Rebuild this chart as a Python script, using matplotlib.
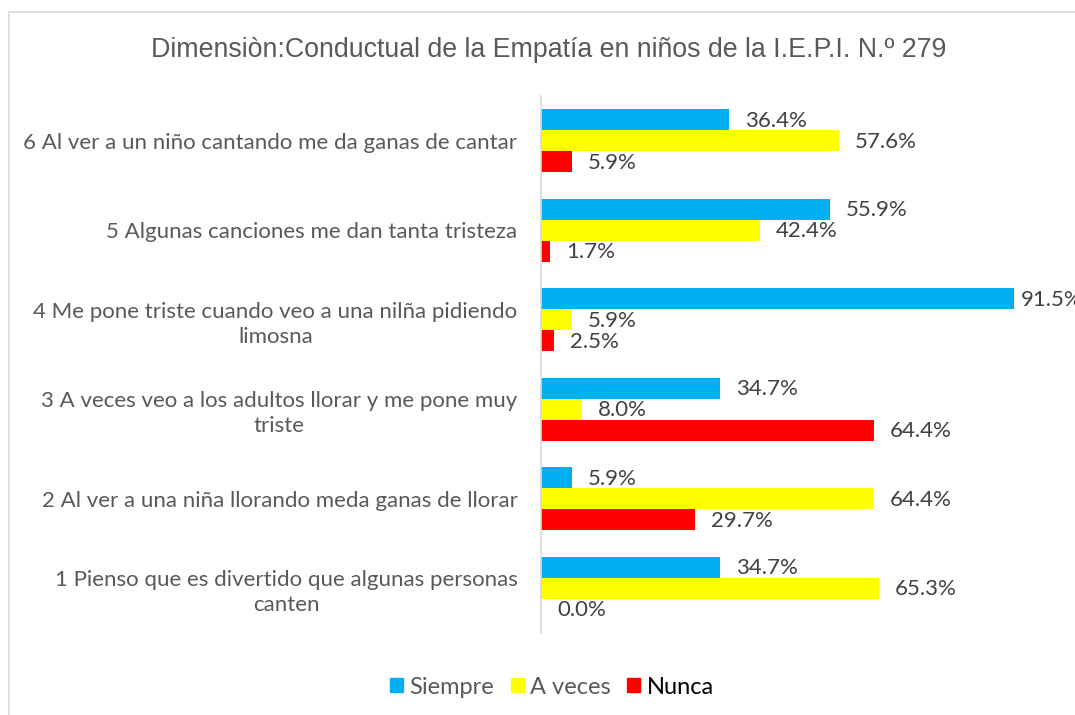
import matplotlib
matplotlib.use("Agg")
import matplotlib.pyplot as plt
from matplotlib.patches import Rectangle
import numpy as np

categories = [
    "1 Pienso que es divertido que algunas personas\ncanten",
    "2 Al ver a una niña llorando meda ganas de llorar",
    "3 A veces veo a los adultos llorar y me pone muy\ntriste",
    "4 Me pone triste cuando veo a una nilña pidiendo\nlimosna",
    "5 Algunas canciones me dan tanta tristeza",
    "6 Al ver a un niño cantando me da ganas de cantar",
]
siempre = [34.7, 5.9, 34.7, 91.5, 55.9, 36.4]
a_veces = [65.3, 64.4, 8.0, 5.9, 42.4, 57.6]
nunca = [0.0, 29.7, 64.4, 2.5, 1.7, 5.9]
series_names = ["Siempre", "A veces", "Nunca"]
colors = ["#00B0F0", "#FFFF00", "#FF0000"]
title = "Dimensiòn:Conductual de la Empatía en niños de la I.E.P.I. N.º 279"

W, H = 1075, 715
fig = plt.figure(figsize=(W / 100, H / 100), dpi=100)

# chart frame
fig.patches.append(Rectangle((9 / W, -0.1), 1.2, 1 - 12 / H + 0.1, transform=fig.transFigure,
                             fill=False, edgecolor="#D9D9D9", linewidth=1.2))

ax = fig.add_axes([541 / W, 1 - 633 / H, (1058 - 541) / W, (633 - 96) / H])
y = np.arange(len(categories))
h = 0.235
offs = [h, 0, -h]
for vals, off, col, name in zip([siempre, a_veces, nunca], offs, colors, series_names):
    bars = ax.barh(y + off, vals, height=h, color=col, label=name)
    for b, v in zip(bars, vals):
        # labels near the right edge sit a little closer to their bar
        dx = 16 if v < 85 else 7
        ax.annotate(f"{v:.1f}%", (b.get_width(), b.get_y() + h / 2), xytext=(dx, -1),
                    textcoords="offset pixels",
                    va="center", ha="left", fontsize=16, color="#404040",
                    family="Lato", annotation_clip=False)

ax.set_xlim(0, 100)
ax.set_ylim(-0.5, len(categories) - 0.5)
ax.set_yticks(y)
ax.set_yticklabels(categories, fontsize=16, color="#595959", family="Lato",
                   multialignment="center", linespacing=1.3)
ax.tick_params(axis="y", length=0, pad=17)
ax.set_xticks([])
for s in ["top", "right", "bottom"]:
    ax.spines[s].set_visible(False)
ax.spines["left"].set_color("#D9D9D9")
ax.spines["left"].set_linewidth(1.2)
ax.patch.set_alpha(0)

fig.text(549 / W, 1 - 50 / H, title, ha="center", va="center", fontsize=19.3,
         color="#595959", family="Liberation Sans")

# legend
handles = [Rectangle((0, 0), 1, 1, color=c) for c in colors]
leg = fig.legend(handles, series_names, loc="center", bbox_to_anchor=(552 / W, 1 - 687 / H),
                 ncol=3, frameon=False, handlelength=0.55, handleheight=0.55, handletextpad=0.27,
                 columnspacing=0.7, prop={"family": "Lato", "size": 17})
for t, c in zip(leg.get_texts(), ["#595959", "#595959", "#000000"]):
    t.set_color(c)

fig.savefig("out.png", dpi=100)
